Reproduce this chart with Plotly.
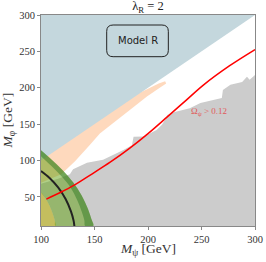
import plotly.graph_objects as go

# ---------------- data ----------------
psi_range = [100, 300]
phi_range = [10, 300]

# kinematic boundary M_phi = M_psi
diag_psi = [100, 300]
diag_phi = [100, 300]

# peach region (just below the diagonal; upper edge tucked under the blue region)
peach_up_psi = [100, 150, 188, 200, 210, 216, 217]
peach_up_phi = [104, 154, 190, 198.5, 206, 209, 206]
peach_lo_psi = [211, 199, 183, 155, 146, 132, 119, 100]
peach_lo_phi = [200, 188, 169.5, 137, 122, 99.5, 81, 69.6]

# grey excluded region upper boundary (Omega > 0.12)
grey_psi = [100, 108, 116, 127, 130, 143, 158, 177, 185, 186.5, 196, 208, 213, 216,
            218, 225, 239, 249, 261, 269, 270, 277, 288, 292.5, 295, 300]
grey_phi = [68, 71, 75, 81, 88, 97, 101, 114.6, 121, 132.5, 133, 142, 149, 156,
            162.6, 166.8, 172, 179, 183, 186, 197, 204, 208, 215, 211, 217.6]

# bands (from upper-left to bottom)
band_out_psi = [100, 110, 120, 130, 138, 144, 147, 148.8]
band_out_phi = [114, 101, 87, 70, 52, 33, 20, 10]
stripe_in_psi = [100, 110, 120, 128, 134, 138, 140.5, 141.3]
stripe_in_phi = [106, 92, 77, 62, 45, 30, 18, 10]
band_in_psi = [100, 104, 108, 111, 113, 113.6]
band_in_phi = [56, 48, 38, 27, 17, 10]

# central black curve
black_psi = [100, 108, 116, 123, 128, 130.5, 131.2]
black_phi = [85.5, 76, 63, 47, 30, 17, 10]

# relic density curve (red)
red_psi = [105, 118, 131.5, 146, 165, 183, 200, 218, 235, 252, 276, 300]
red_phi = [47, 56, 66.5, 80, 98, 117, 137, 160, 182, 204, 230, 252.5]

x_ticks = [100, 150, 200, 250, 300]
y_ticks = [50, 100, 150, 200, 250, 300]

SERIF = "Liberation Serif"

fig = go.Figure()


def poly(xs, ys, color, shape="linear"):
    fig.add_trace(go.Scatter(x=xs, y=ys, mode="lines", fill="toself",
                             fillcolor=color, line=dict(width=0, shape=shape),
                             hoverinfo="skip", showlegend=False))


# peach region
poly(peach_up_psi + peach_lo_psi, peach_up_phi + peach_lo_phi, "#fed9bd")

# blue region above the diagonal
poly([diag_psi[0], diag_psi[1], psi_range[0]],
     [diag_phi[0], diag_phi[1], phi_range[1]], "#c4d7dd")

# grey region
poly(grey_psi + [psi_range[1], psi_range[0]],
     grey_phi + [phi_range[0], phi_range[0]], "#cccccc")

# yellow inner region
poly([psi_range[0]] + band_in_psi + [psi_range[0]],
     [phi_range[0]] + band_in_phi + [phi_range[0]], "rgba(190,180,20,0.6)", "spline")

# green band
poly(band_out_psi + band_in_psi[::-1], band_out_phi + band_in_phi[::-1],
     "rgba(95,160,15,0.5)", "spline")

# darker outer stripe
poly(band_out_psi + stripe_in_psi[::-1], band_out_phi + stripe_in_phi[::-1],
     "rgba(40,115,30,0.45)", "spline")

# black curve
fig.add_trace(go.Scatter(x=black_psi, y=black_phi, mode="lines",
                         line=dict(color="#222222", width=2, shape="spline"),
                         hoverinfo="skip", showlegend=False))
# red curve
fig.add_trace(go.Scatter(x=red_psi, y=red_phi, mode="lines",
                         line=dict(color="#ff0000", width=1.5, shape="spline"),
                         hoverinfo="skip", showlegend=False))

# text annotations
fig.add_annotation(x=257, y=167, text="Ω<sub>ψ</sub> > 0.12", showarrow=False,
                   font=dict(family=SERIF, size=9, color="#e05a5a"))
fig.add_annotation(x=190.2, y=264.4, text="Model R", showarrow=False,
                   font=dict(family="DejaVu Sans", size=10, color="#222222"))

# axis titles
fig.add_annotation(xref="paper", yref="paper", x=0.5, y=-0.11, yanchor="middle",
                   text="<i>M</i><sub>ψ</sub> [GeV]", showarrow=False,
                   font=dict(family=SERIF, size=13.5, color="#333333"))
fig.add_annotation(xref="paper", yref="paper", x=-0.15, y=0.5, xanchor="center",
                   textangle=-90, text="<i>M</i><sub>φ</sub> [GeV]", showarrow=False,
                   font=dict(family=SERIF, size=13.5, color="#333333"))

# rounded box around "Model R" (paper coords)
x0, x1, y0, y1 = 0.307, 0.595, 0.8024, 0.9526
dx, dy = 0.03, 0.03
path = (f"M {x0+dx},{y1} L {x1-dx},{y1} Q {x1},{y1} {x1},{y1-dy} "
        f"L {x1},{y0+dy} Q {x1},{y0} {x1-dx},{y0} L {x0+dx},{y0} "
        f"Q {x0},{y0} {x0},{y0+dy} L {x0},{y1-dy} Q {x0},{y1} {x0+dx},{y1} Z")
fig.add_shape(type="path", path=path, xref="paper", yref="paper",
              line=dict(color="#222222", width=1), fillcolor="rgba(0,0,0,0)")

axis_common = dict(showgrid=False, zeroline=False, showline=True, mirror=True,
                   linecolor="#888888", linewidth=1, ticks="outside", ticklen=3,
                   tickcolor="#888888", automargin=False,
                   tickfont=dict(family=SERIF, size=10.5, color="#333333"))

fig.update_layout(
    width=266, height=262,
    margin=dict(l=41, r=11, t=15, b=36),
    paper_bgcolor="white", plot_bgcolor="white",
    title=dict(text="λ<sub>R</sub> = 2", xref="paper", x=0.5, xanchor="center",
               yref="container", y=0.978, yanchor="middle",
               font=dict(family=SERIF, size=12.5, color="#222222")),
    xaxis=dict(range=psi_range, tickvals=x_ticks, **axis_common),
    yaxis=dict(range=phi_range, tickvals=y_ticks, **axis_common),
)

fig.write_html("out.html", config={"displayModeBar": False},
               post_script="document.body.style.margin='0';document.body.style.padding='0';")
